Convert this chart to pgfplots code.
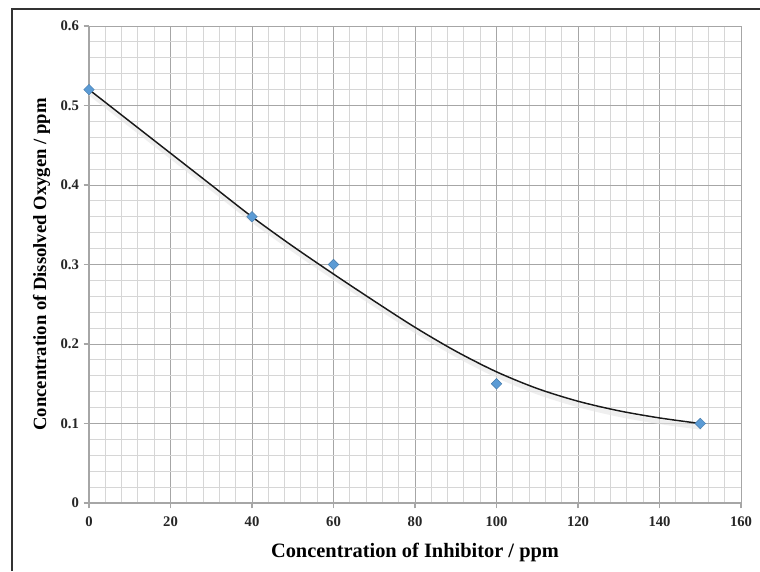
\documentclass[border=0pt]{standalone}
\usepackage{fontspec}
\setmainfont{Liberation Serif}
\usepackage{pgfplots}
\pgfplotsset{compat=1.18}
\definecolor{markblue}{HTML}{5B9BD5}
\definecolor{majgrid}{HTML}{A6A6A6}
\definecolor{mingrid}{HTML}{D6D6D6}
\begin{document}
\begin{tikzpicture}
\path[use as bounding box] (0,0) rectangle (570pt,428.25pt);
\draw[line width=1.4pt, black!80] (9pt,0) -- (9pt,421.5pt) -- (570pt,421.5pt);
\begin{axis}[
  at={(66.75pt,51pt)}, anchor=south west,
  scale only axis, width=489pt, height=357.75pt,
  xmin=0, xmax=160, ymin=0, ymax=0.6,
  xtick={0,20,...,160}, ytick={0,0.1,...,0.6},
  yticklabels={0,0.1,0.2,0.3,0.4,0.5,0.6},
  minor x tick num=4, minor y tick num=4,
  grid=both,
  major grid style={majgrid, line width=0.7pt},
  minor grid style={mingrid, line width=0.7pt},
  axis lines*=left,
  axis line style={majgrid, line width=0.9pt},
  tick style={majgrid, line width=0.8pt},
  major tick length=4pt, minor tick length=0pt,
  tick align=outside,
  /pgf/number format/assume math mode=true,
  tick label style={font=\fontsize{11pt}{13pt}\selectfont\bfseries, text=black!85},
  xticklabel style={yshift=-3pt},
  xlabel={Concentration of Inhibitor / ppm},
  ylabel={Concentration of Dissolved Oxygen / ppm},
  xlabel style={font=\fontsize{15.3pt}{17pt}\selectfont\bfseries, yshift=-5pt},
  ylabel style={font=\fontsize{14pt}{16pt}\selectfont\bfseries, yshift=1pt},
  clip=false,
]
% trendline shadow
\addplot[black!10, line width=3.5pt, smooth, yshift=-3pt, xshift=1pt, opacity=0.6] coordinates {
 (0,0.520) (10,0.480) (20,0.440) (30,0.400) (40,0.360) (50,0.323) (60,0.288)
 (70,0.254) (80,0.221) (90,0.191) (100,0.165) (110,0.144) (120,0.128)
 (130,0.116) (140,0.107) (150,0.100)};
% trendline
\addplot[black!90, line width=1.1pt, smooth] coordinates {
 (0,0.520) (10,0.480) (20,0.440) (30,0.400) (40,0.360) (50,0.323) (60,0.288)
 (70,0.254) (80,0.221) (90,0.191) (100,0.165) (110,0.144) (120,0.128)
 (130,0.116) (140,0.107) (150,0.100)};
% measured points
\addplot[only marks, mark=square*, mark size=2.8pt,
  mark options={rotate=45, fill=markblue, draw=markblue!80!black, line width=0.3pt}] coordinates {
 (0,0.52) (40,0.36) (60,0.30) (100,0.15) (150,0.10)};
\end{axis}
\end{tikzpicture}
\end{document}
